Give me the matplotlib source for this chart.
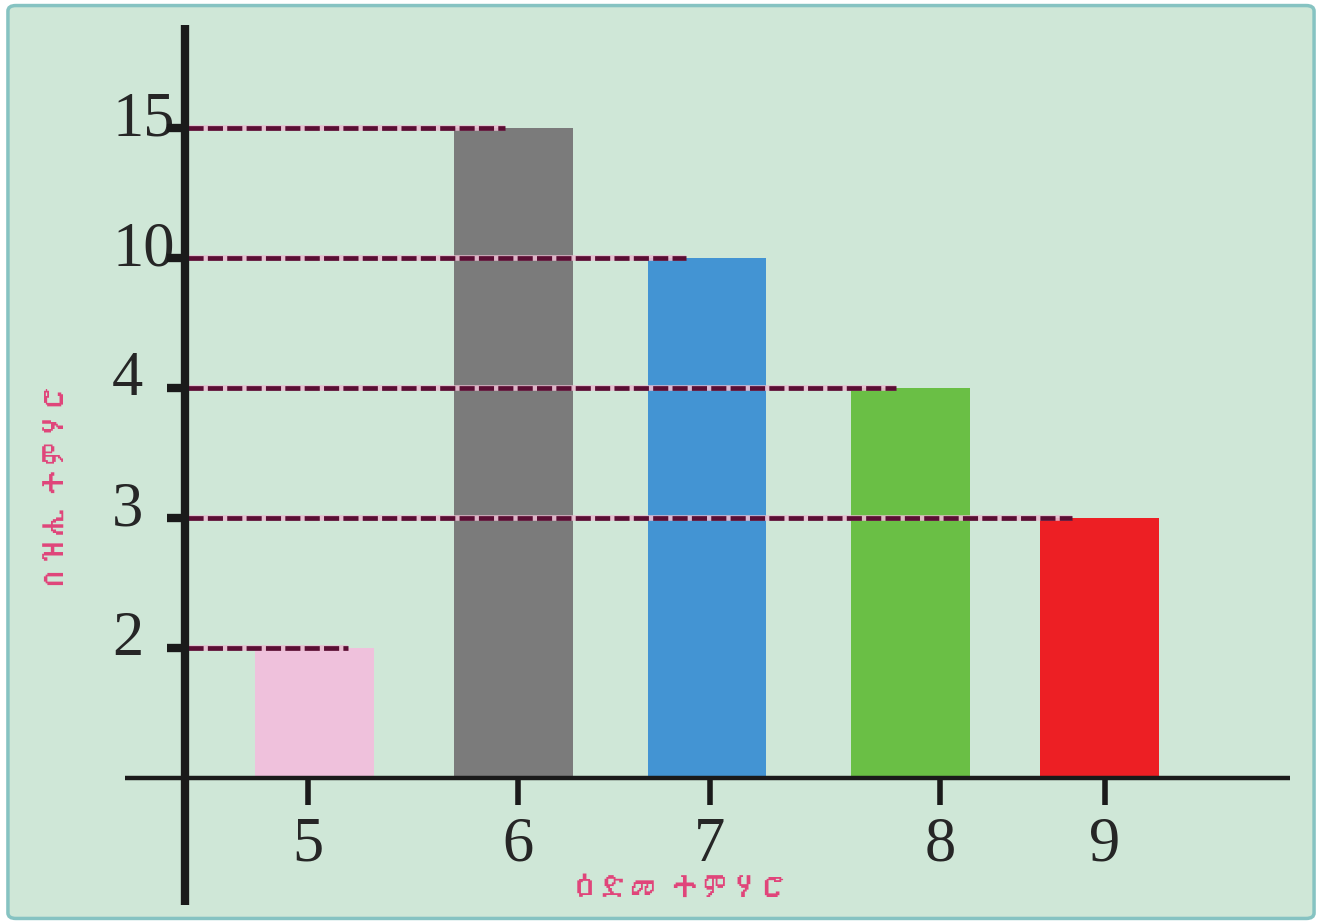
"""
Bar chart of student ages (Tigrinya labels), equal-step y levels.
"""
import numpy as np
import matplotlib as mpl
mpl.use("Agg")
import matplotlib.pyplot as plt
from matplotlib import font_manager as fm
from matplotlib.ft2font import FT2Font
from matplotlib.patches import FancyBboxPatch

# ---- data ----
ages = ["5", "6", "7", "8", "9"]
counts = [2, 15, 10, 4, 3]
level_labels = ["2", "3", "4", "10", "15"]          # y ticks, equally spaced
colors = ["#efc1dc", "#7b7b7b", "#4394d3", "#6abf45", "#ed1f24"]
xlabel = "ዕድመ ተምሃሮ"
ylabel = "በዝሒ ተምሃሮ"

# ---- layout (positions in axis units) ----
tick_pos = [5.0, 6.0, 6.914, 8.01, 8.795]
bar_pos = [5.03, 5.98, 6.90, 7.87, 8.77]
bar_w = 0.565
guide_end = [5.19, 8.64, 7.80, 6.80, 5.94]   # where each level's dashed guide stops
BG = "#cfe7d7"
INK = "#1a1a1a"
PINK = "#e0457a"


def ethiopic_font():
    # look for any installed face that has Ethiopic glyphs
    for f in fm.fontManager.ttflist:
        try:
            if 0x12A0 in FT2Font(f.fname).get_charmap():
                return f.name
        except Exception:
            pass
    return None


eth = ethiopic_font()
lab_family = [eth, "DejaVu Sans"] if eth else ["DejaVu Sans"]

level_of = {int(s): i + 1 for i, s in enumerate(level_labels)}
heights = [level_of[c] for c in counts]

fig = plt.figure(figsize=(13.22, 9.24), dpi=100, facecolor="white")
fig.patches.append(FancyBboxPatch((0.006, 0.006), 0.988, 0.988,
                                  boxstyle="round,pad=0,rounding_size=0.006",
                                  transform=fig.transFigure, facecolor=BG,
                                  edgecolor="#86c3c2", linewidth=2.5, zorder=0))
ax = fig.add_axes([0, 0, 1, 1])
ax.set_zorder(1)
ax.patch.set_visible(False)
ax.set_xlim(3.533, 9.829)
ax.set_ylim(-1.123, 5.985)
ax.axis("off")

ax.bar(bar_pos, heights, width=bar_w, color=colors, zorder=2)

# dashed guides from the y axis to each level
for lvl, xe in zip(range(1, 6), guide_end):
    ax.plot([4.43, xe], [lvl, lvl], color="#e9bcd0", lw=4.0, zorder=3,
            solid_capstyle="butt", alpha=0.9)
    ax.plot([4.43, xe], [lvl, lvl], color="#5a0e33", lw=3.4, zorder=4,
            dashes=(3.2, 0.9))

# axes lines
ax.plot([4.414, 4.414], [-0.977, 5.79], color=INK, lw=6, zorder=5,
        solid_capstyle="butt")
ax.plot([4.129, 9.676], [0, 0], color=INK, lw=3.2, zorder=5,
        solid_capstyle="butt")

for lvl, lab in zip(range(1, 6), level_labels):
    ax.plot([4.33, 4.42], [lvl, lvl], color=INK, lw=6, zorder=5,
            solid_capstyle="butt")
    ax.text(4.067, lvl + 0.06, lab, ha="left", va="center", fontsize=45,
            family="Liberation Serif", color="#262626")

for xp, lab in zip(tick_pos, ages):
    ax.plot([xp, xp], [0, -0.21], color=INK, lw=4, zorder=5,
            solid_capstyle="butt")
    ax.text(xp, -0.52, lab, ha="center", va="center", fontsize=45,
            family="Liberation Serif", color="#262626")

ax.text(6.77, -0.85, xlabel, ha="center", va="center", fontsize=21,
        color=PINK, family=lab_family, fontweight="bold")
ax.text(3.805, 2.24, ylabel, ha="center", va="center", fontsize=20,
        color=PINK, family=lab_family, rotation=90, fontweight="bold")

fig.savefig("out.png", dpi=100, facecolor="white")
